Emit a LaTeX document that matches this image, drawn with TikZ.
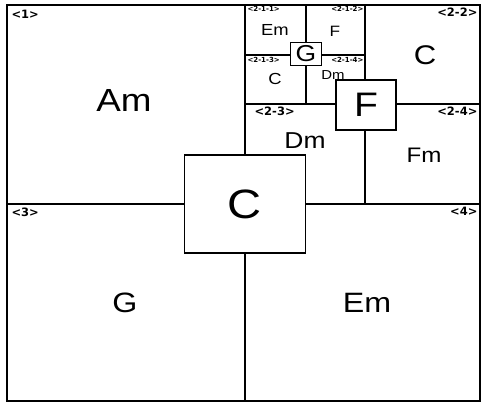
\documentclass[tikz,border=0pt]{standalone}
\usepackage{fontspec}
\usepackage{graphicx}
\setmainfont{Liberation Sans}
\newfontfamily\tagfont{DejaVu Sans}
\usetikzlibrary{positioning}
\newcommand{\wide}[1]{\scalebox{1.15}[1]{#1}}

\begin{document}
\begin{tikzpicture}[
  x=1pt,y=-1pt,
  line width=1.2pt,
  chord/.style={inner sep=0pt,anchor=center},
  tagl/.style={inner sep=0pt,anchor=north west,font=\tagfont\bfseries\fontsize{11.5}{12}\selectfont},
  tagr/.style={tagl,anchor=north east},
  tiny/.style={tagl,font=\tagfont\bfseries\fontsize{7}{7}\selectfont},
  tinyr/.style={tiny,anchor=north east},
  keybox/.style={rectangle,draw,fill=white,inner sep=0pt}
]
  \useasboundingbox (0,0) rectangle (482,403);
  % frame and splits
  \coordinate (nw) at (7,5);
  \coordinate (se) at (480,401);
  \draw[line width=1.6pt] (nw) rectangle (se);
  \draw (245,5) -- (245,401);
  \draw (7,204) -- (480,204);
  \draw (365,5) -- (365,204);
  \draw (245,104) -- (480,104);
  \draw (306,5) -- (306,104);
  \draw (245,55) -- (365,55);

  % tags
  \node[tagl] (t1) at (11,10) {<1>};
  \node[tagr] (t22) at (478,7) {<2-2>};
  \node[tagl] (t23) at (254,106) {<2-3>};
  \node[tagr] (t24) at (478,106) {<2-4>};
  \node[tagl] (t3) at (11,207) {<3>};
  \node[tagr] (t4) at (478,207) {<4>};
  \node[tiny] (t211) at (247,6) {<2-1-1>};
  \node[tinyr] (t212) at (364,6) {<2-1-2>};
  \node[tiny] (t213) at (247,57) {<2-1-3>};
  \node[tinyr] (t214) at (364,57) {<2-1-4>};

  % chords
  \node[chord,font=\fontsize{32}{32}\selectfont] (am) at (124,100) {\wide{Am}};
  \node[chord,font=\fontsize{28}{28}\selectfont] (g3) at (125,303) {\wide{G}};
  \node[chord,font=\fontsize{28}{28}\selectfont] (em4) at (367,303) {\wide{Em}};
  \node[chord,font=\fontsize{27}{27}\selectfont] (c22) at (425,55) {\wide{C}};
  \node[chord,font=\fontsize{23}{23}\selectfont] (dm23) at (305,141) {\wide{Dm}};
  \node[chord,font=\fontsize{21}{21}\selectfont] (fm24) at (424,155) {\wide{Fm}};
  \node[chord,font=\fontsize{16}{16}\selectfont] (em211) at (275,30) {\wide{Em}};
  \node[chord,font=\fontsize{15}{15}\selectfont] (f212) at (335,31) {\wide{F}};
  \node[chord,font=\fontsize{16}{16}\selectfont] (c213) at (275,79) {\wide{C}};
  \node[chord,font=\fontsize{13}{13}\selectfont] (dm214) at (333,75) {\wide{Dm}};

  % key boxes
  \node[keybox,minimum width=121pt,minimum height=98pt,
        font=\fontsize{41}{41}\selectfont] (bigC) at (245,204) {\wide{C}};
  \node[keybox,minimum width=60pt,minimum height=50pt,
        font=\fontsize{34}{34}\selectfont] (boxF) at (366,105) {\wide{F}};
  \node[keybox,minimum width=31pt,minimum height=23pt,
        font=\fontsize{23}{23}\selectfont] (boxG) at (306,54) {\wide{G}};
\end{tikzpicture}
\end{document}
